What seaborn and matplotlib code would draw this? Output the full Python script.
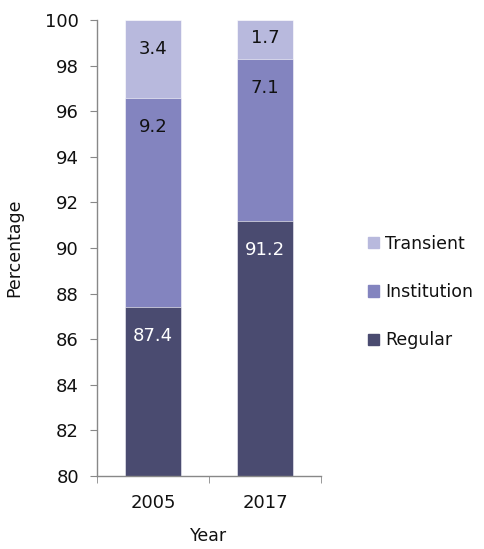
import numpy as np
import pandas as pd
import seaborn as sns
import matplotlib.pyplot as plt
from matplotlib.patches import Patch

years = ['2005', '2017']
regular = [87.4, 91.2]
institution = [9.2, 7.1]
transient = [3.4, 1.7]

sns.set_style('white')
plt.rcParams['font.family'] = ['DejaVu Sans']
plt.rcParams['text.color'] = '#111111'
plt.rcParams['xtick.labelcolor'] = '#111111'
plt.rcParams['ytick.labelcolor'] = '#111111'
plt.rcParams['axes.labelcolor'] = '#111111'

c_reg = '#4a4b70'
c_inst = '#8384bf'
c_tran = '#b8b9dd'

df = pd.DataFrame({'Year': years, 'Regular': regular,
                   'Institution': institution, 'Transient': transient})
df['cum_reg'] = df['Regular']
df['cum_inst'] = df['cum_reg'] + df['Institution']
df['cum_tran'] = df['cum_inst'] + df['Transient']

fig = plt.figure(figsize=(4.84, 5.49), dpi=100)
ax = fig.add_axes([0.2004, 0.133, 0.4628, 0.8306])

# draw from the top of the stack downwards so each layer covers the one above
for col, color in [('cum_tran', c_tran), ('cum_inst', c_inst), ('cum_reg', c_reg)]:
    sns.barplot(data=df, x='Year', y=col, color=color, width=0.5,
                saturation=1, ax=ax, edgecolor='white', linewidth=0.4)

fs = 13
ax.set_ylim(80, 100)
ax.set_xlim(-0.5, 1.5)
ax.set_yticks(np.arange(80, 101, 2))
ax.tick_params(axis='y', labelsize=fs, length=5, color='#888888', direction='out', left=True, pad=8)
ax.set_xticks([0, 1])
ax.set_xticklabels(years)
ax.set_xticks([-0.5, 0.5, 1.5], minor=True)
ax.tick_params(axis='x', which='major', length=0, labelsize=fs, pad=13)
ax.tick_params(axis='x', which='minor', length=5, color='#888888', direction='out', bottom=True)
for s in ['top', 'right']:
    ax.spines[s].set_visible(False)
for s in ['left', 'bottom']:
    ax.spines[s].set_color('#888888')
    ax.spines[s].set_linewidth(1)
ax.set_xlabel('Year', fontsize=12.5, labelpad=11)
ax.set_ylabel('Percentage', fontsize=12.5, labelpad=16)

# labels sit just inside the top of each segment
for i in range(len(years)):
    segs = [(df['cum_reg'][i], regular[i], 'white'),
            (df['cum_inst'][i], institution[i], '#111111'),
            (df['cum_tran'][i], transient[i], '#111111')]
    for top, val, tc in segs:
        off = -21 if val > 2 else -13
        ax.annotate(f'{val:.1f}', xy=(i, top), xytext=(0, off), textcoords='offset points',
                    ha='center', va='center', fontsize=fs, color=tc)

handles = [Patch(color=c_tran, label='Transient'),
           Patch(color=c_inst, label='Institution'),
           Patch(color=c_reg, label='Regular')]
fig.legend(handles=handles, loc='center left', bbox_to_anchor=(0.728, 0.468),
           frameon=False, fontsize=12.5, handlelength=0.65, handleheight=0.65,
           handletextpad=0.35, labelspacing=1.75)

fig.savefig('out.png', dpi=100)
